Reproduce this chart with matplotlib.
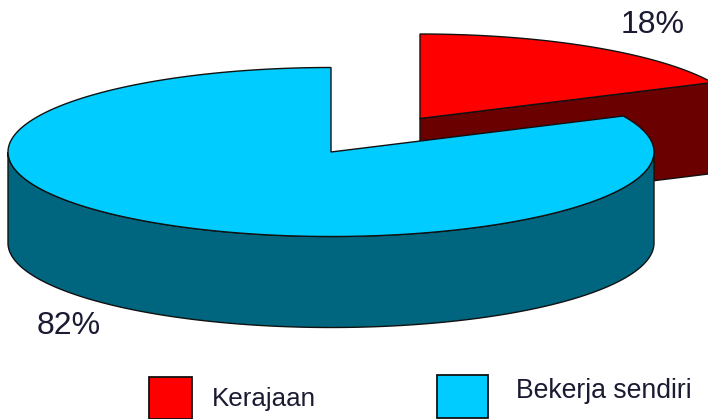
import numpy as np
import matplotlib
matplotlib.use("Agg")
import matplotlib.pyplot as plt

categories = ["Kerajaan", "Bekerja sendiri"]
values = [18, 82]
percent_labels = ["18%", "82%"]

TOP_COLORS = ["#FF0000", "#00CCFF"]
SIDE_COLORS = ["#6B0000", "#006680"]
EDGE = "#111111"

plt.rcParams["font.family"] = ["Liberation Sans", "DejaVu Sans"]
fig = plt.figure(figsize=(7.08, 4.19), dpi=100)
ax = fig.add_axes([0, 0, 1, 1])
ax.set_xlim(0, 708)
ax.set_ylim(419, 0)
ax.axis("off")

RX, RY, DEPTH = 323, 84.5, 91
CENTERS = [(420, 118.5), (331, 152)]


def rim(center, a, b, n=200):
    """Points on the elliptical rim; angles clockwise from 12 o'clock, degrees."""
    t = np.radians(np.linspace(a, b, n))
    return center[0] + RX * np.sin(t), center[1] - RY * np.cos(t)


split = 360 * values[0] / sum(values)
spans = [(0, split), (split, 360)]

# Red slice: pulled-out wedge, its front cut face and the short outer rim
c = CENTERS[0]
x, y = rim(c, *spans[0])
xe, ye = rim(c, spans[0][1], 90)
ax.fill(np.r_[xe, xe[::-1]], np.r_[ye, ye[::-1] + DEPTH],
        fc=SIDE_COLORS[0], ec=EDGE, lw=1)
ax.fill([c[0], x[-1], x[-1], c[0]],
        [c[1], y[-1], y[-1] + DEPTH, c[1] + DEPTH],
        fc=SIDE_COLORS[0], ec=EDGE, lw=1)
ax.fill(np.r_[c[0], x], np.r_[c[1], y], fc=TOP_COLORS[0], ec=EDGE, lw=1)

# Blue slice: front rim and top face
c = CENTERS[1]
xs, ys = rim(c, 90, 270)
ax.fill(np.r_[xs, xs[::-1]], np.r_[ys, ys[::-1] + DEPTH],
        fc=SIDE_COLORS[1], ec=EDGE, lw=1)
x, y = rim(c, *spans[1], n=400)
ax.fill(np.r_[c[0], x], np.r_[c[1], y], fc=TOP_COLORS[1], ec=EDGE, lw=1)

# Percentage labels
TXT = "#1A1A33"
ax.text(653, 25, percent_labels[0], fontsize=23, color=TXT, ha="center", va="center")
ax.text(69, 326, percent_labels[1], fontsize=23, color=TXT, ha="center", va="center")

# Legend
boxes = [(149, 377, 43, 42), (437, 375, 51, 43)]
label_pos = [(212, 399), (516, 391)]
label_sizes = [18.7, 19.2]
for name, col, (bx, by, bw, bh), (tx, ty), fs in zip(categories, TOP_COLORS, boxes, label_pos, label_sizes):
    ax.add_patch(plt.Rectangle((bx, by), bw, bh, fc=col, ec=EDGE, lw=1.3, clip_on=True))
    ax.text(tx, ty, name, fontsize=fs, color=TXT, ha="left", va="center")

fig.savefig("out.png", dpi=100)
